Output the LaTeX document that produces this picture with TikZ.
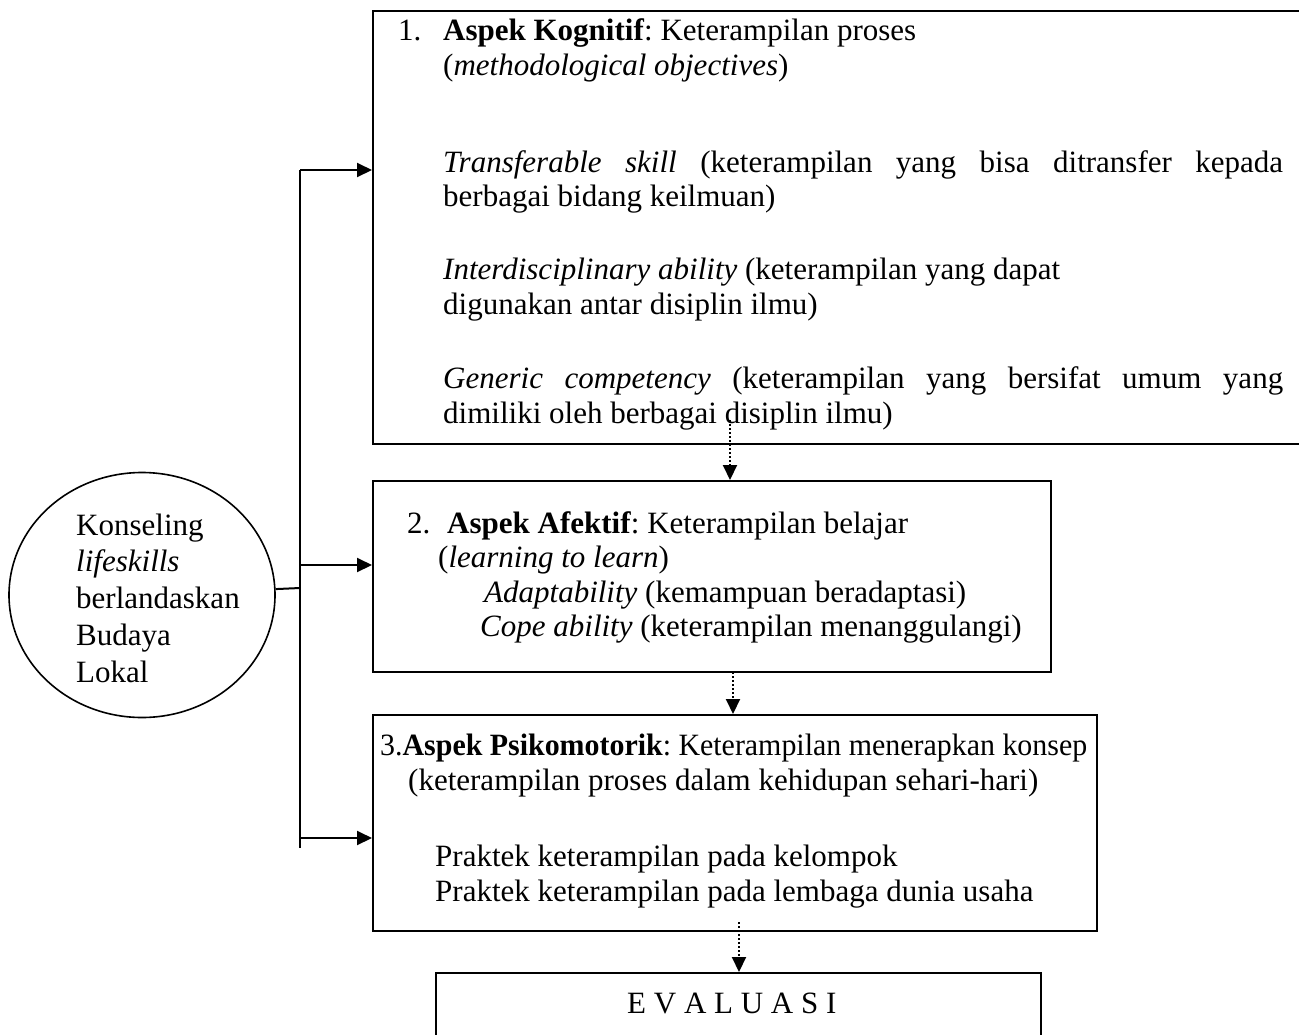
\documentclass[tikz,border=0pt]{standalone}
\usepackage{fontspec}
\setmainfont{Liberation Serif}
\usetikzlibrary{arrows.meta,shapes.geometric}
\frenchspacing
\begin{document}
\begin{tikzpicture}[x=1pt,y=-1pt,
  box/.style={draw, line width=2pt, inner sep=0pt, anchor=north west},
  txt/.style={anchor=base west, inner sep=0pt, font=\fontsize{31}{35}\selectfont},
  conn/.style={line width=2pt},
  arr/.style={line width=2pt, -{Triangle[length=15pt,width=14pt]}},
  dotarr/.style={line width=2pt, dotted, -{Triangle[length=15pt,width=14pt]}}]
\useasboundingbox (0,0) rectangle (1299,1034);
% boxes
\node[box, minimum width=932pt, minimum height=433pt] (b1) at (372,10) {};
\node[box, minimum width=678pt, minimum height=191pt] (b2) at (372,480) {};
\node[box, minimum width=724pt, minimum height=216pt] (b3) at (372,714) {};
\node[box, minimum width=605pt, minimum height=100pt] (b4) at (435,972) {};
\node[draw, ellipse, line width=1.6pt, minimum width=266pt, minimum height=245pt, inner sep=0pt] (el) at (142,595) {};
% ellipse text
\node[txt] (e1) at (76,535) {Konseling};
\node[txt] (e2) at (76,571) {\textit{lifeskills}};
\node[txt] (e3) at (76,608) {berlandaskan};
\node[txt] (e4) at (76,645) {Budaya};
\node[txt] (e5) at (76,682) {Lokal};
% box 1 text
\node[txt] (t1n) at (398,40) {1.};
\node[txt] (t1a) at (443,40) {\textbf{Aspek Kognitif}: Keterampilan proses};
\node[txt] (t1b) at (443,75) {(\textit{methodological objectives})};
\node[txt] (t1c) at (443,172) {\makebox[840pt][s]{\textit{Transferable skill} (keterampilan yang bisa ditransfer kepada}};
\node[txt] (t1d) at (443,206) {berbagai bidang keilmuan)};
\node[txt] (t1e) at (443,279) {\textit{Interdisciplinary ability} (keterampilan yang dapat};
\node[txt] (t1f) at (443,314) {digunakan antar disiplin ilmu)};
\node[txt] (t1g) at (443,388) {\makebox[840pt][s]{\textit{Generic competency} (keterampilan yang bersifat umum yang}};
\node[txt] (t1h) at (443,423) {dimiliki oleh berbagai disiplin ilmu)};
% box 2 text
\node[txt] (t2n) at (407,533) {2.};
\node[txt] (t2a) at (447,533) {\textbf{Aspek Afektif}: Keterampilan belajar};
\node[txt] (t2b) at (438,567) {(\textit{learning to learn})};
\node[txt] (t2c) at (484,602) {\textit{Adaptability} (kemampuan beradaptasi)};
\node[txt] (t2d) at (480,636) {\textit{Cope ability} (keterampilan menanggulangi)};
% box 3 text
\node[txt] (t3a) at (380,755) {\scalebox{0.965}[1]{3.\textbf{Aspek Psikomotorik}: Keterampilan menerapkan konsep}};
\node[txt] (t3b) at (408,790) {(keterampilan proses dalam kehidupan sehari-hari)};
\node[txt] (t3c) at (435,866) {Praktek keterampilan pada kelompok};
\node[txt] (t3d) at (435,901) {Praktek keterampilan pada lembaga dunia usaha};
% box 4 text
\node[txt] (t4) at (627,1013) {E V A L U A S I};
% connectors
\coordinate (j) at (300,588);
\coordinate (vt) at (300,170);
\coordinate (vm) at (300,565);
\coordinate (va) at (300,838);
\coordinate (vb) at (300,848);
\draw[conn] (el) -- (j);
\draw[conn] (vt) -- (vb);
\draw[arr] (vt) -- (vt -| b1.west);
\draw[arr] (vm) -- (vm -| b2.west);
\draw[arr] (va) -- (va -| b3.west);
% dotted arrows
\coordinate (d1) at (730,420);
\coordinate (d2) at (733,672);
\coordinate (d3) at (739,922);
\draw[dotarr] (d1) -- (d1 |- b2.north);
\draw[dotarr] (d2) -- (d2 |- b3.north);
\draw[dotarr] (d3) -- (d3 |- b4.north);
\end{tikzpicture}
\end{document}
